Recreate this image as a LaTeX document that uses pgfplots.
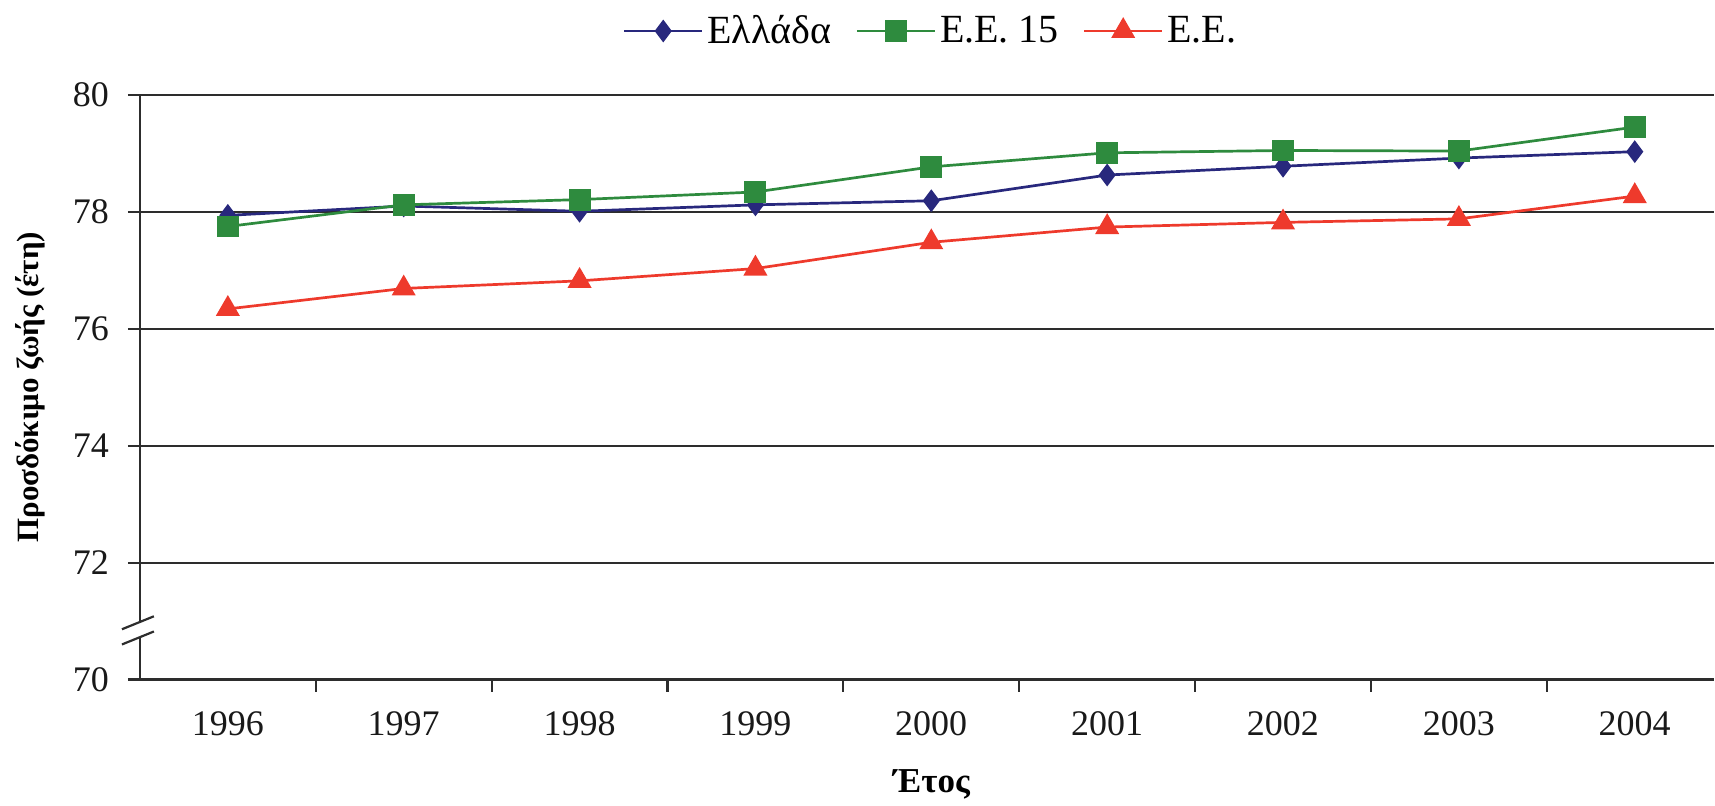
\documentclass[border=0pt]{standalone}
\usepackage{fontspec}
\setmainfont{Liberation Serif}
\usepackage{pgfplots}
\pgfplotsset{compat=1.18}

\definecolor{grc}{RGB}{40,40,125}
\definecolor{euf}{RGB}{46,139,62}
\definecolor{eur}{RGB}{238,58,44}
\definecolor{gridc}{RGB}{45,45,45}

\begin{document}
\begin{tikzpicture}
\begin{axis}[
  scale only axis,
  width=787.5pt, height=292.5pt,
  xmin=1995.5, xmax=2004.45,
  ymin=70, ymax=80,
  clip=false,
  axis x line*=bottom, axis y line*=left,
  axis line style={draw=gridc, line width=1.1pt, -},
  ytick={70,72,74,76,78,80},
  xtick={1996,...,2004},
  minor xtick={1996.5,1997.5,...,2003.5},
  tick align=outside,
  major tick length=6pt, minor tick length=6pt,
  every major x tick/.style={draw=none},
  every tick/.style={draw=gridc, line width=1.1pt},
  ymajorgrids=true,
  major grid style={draw=gridc, line width=1.1pt},
  /pgf/number format/assume math mode=true,
  /pgf/number format/1000 sep={},
  tick label style={font=\fontsize{18}{20}\selectfont, text=black!90},
  xticklabel style={anchor=center, yshift=-16pt},
  yticklabel style={anchor=east, xshift=-6pt},
  xlabel={Έτος},
  xlabel style={at={(axis description cs:0.503,0)}, anchor=center, yshift=-52.5pt,
                font=\bfseries\fontsize{17.5}{20}\selectfont},
  ylabel={Προσδόκιμο ζωής (έτη)},
  ylabel style={at={(axis description cs:-0.0698,0.5)}, anchor=center,
                font=\bfseries\fontsize{15.5}{18}\selectfont},
  legend columns=3,
  legend style={at={(axis description cs:0.503,1)}, anchor=center, yshift=32pt,
                draw=none, fill=none, font=\fontsize{20}{22}\selectfont,
                /tikz/every even column/.append style={column sep=10pt},
                inner sep=0pt},
  legend image code/.code={
    \draw[mark repeat=2, mark phase=2] plot coordinates {(0pt,0pt) (19.5pt,0pt) (39pt,0pt)};
  },
]
\addplot[grc, line width=1.35pt, mark=diamond*, mark size=4.6pt,
         mark options={solid, fill=grc}]
  coordinates {(1996,77.94) (1997,78.10) (1998,78.01) (1999,78.12) (2000,78.19)
               (2001,78.63) (2002,78.78) (2003,78.92) (2004,79.03)};
\addlegendentry{Ελλάδα}
\addplot[euf, line width=1.35pt, mark=square*, mark size=4.8pt,
         mark options={solid, fill=euf}]
  coordinates {(1996,77.75) (1997,78.12) (1998,78.21) (1999,78.34) (2000,78.77)
               (2001,79.01) (2002,79.05) (2003,79.04) (2004,79.45)};
\addlegendentry{Ε.Ε. 15}
\addplot[eur, line width=1.35pt, mark=triangle*, mark size=5.6pt,
         mark options={solid, fill=eur}]
  coordinates {(1996,76.34) (1997,76.69) (1998,76.82) (1999,77.03) (2000,77.48)
               (2001,77.74) (2002,77.82) (2003,77.88) (2004,78.27)};
\addlegendentry{Ε.Ε.}
% scale break on the value axis
\fill[white] ([xshift=-3pt]axis cs:1995.5,70.72) rectangle ([xshift=3pt]axis cs:1995.5,70.98);
\draw[gridc, line width=1.1pt] ([xshift=-9pt,yshift=-3.5pt]axis cs:1995.5,70.72) -- ([xshift=7pt,yshift=3pt]axis cs:1995.5,70.72);
\draw[gridc, line width=1.1pt] ([xshift=-9pt,yshift=-3.5pt]axis cs:1995.5,70.98) -- ([xshift=7pt,yshift=3pt]axis cs:1995.5,70.98);
\end{axis}
\path (-70pt,-63pt) rectangle (787.5pt,340pt);
\end{tikzpicture}
\end{document}
